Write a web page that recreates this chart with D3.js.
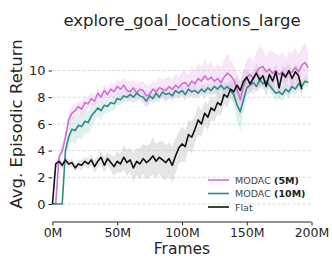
<!DOCTYPE html>
<html>
<head>
<meta charset="utf-8">
<script src="https://cdn.jsdelivr.net/npm/d3@7"></script>
<style>
  body { margin: 0; background: #fff; }
  svg { display: block; font-family: "DejaVu Sans", sans-serif; }
</style>
</head>
<body>
<svg id="chart" width="332" height="258"></svg>
<script>
// frames in millions, one sample every 2.5M
var frames = d3.range(80).map(function(i) { return i * 2.5; });

var modac5 = [0,0,3.5,4.0,5.0,6.3,6.8,7.0,7.3,7.1,7.6,7.5,7.9,7.7,8.3,8.0,8.5,8.2,8.6,8.4,
  8.8,8.6,8.9,8.5,8.4,8.7,8.3,8.6,8.5,8.1,8.2,8.6,8.4,8.7,8.6,8.5,8.8,8.6,8.9,8.7,
  9.0,9.1,8.8,9.2,9.0,9.4,9.2,9.6,9.3,9.5,9.2,9.4,9.1,9.5,9.8,9.6,9.3,8.6,7.8,8.8,
  9.5,9.7,9.4,9.9,10.2,10.3,9.9,10.1,9.8,10.0,9.7,9.9,9.6,9.8,9.9,10.2,9.9,10.4,10.6,10.2];
var modac5Spread = [0,0,0.3,0.4,0.5,0.6,0.5,0.5,0.4,0.5,0.5,0.4,0.5,0.4,0.5,0.4,0.5,0.4,0.5,0.6,
  0.5,0.6,0.5,0.7,0.8,0.6,0.7,0.6,0.7,0.8,0.7,0.6,0.7,0.8,0.7,0.9,0.8,0.7,0.9,0.8,
  0.9,1.0,0.8,1.1,0.9,1.2,1.0,1.3,1.1,1.2,1.0,1.1,1.2,1.3,1.5,1.2,1.1,1.3,1.4,1.2,
  1.3,1.4,1.2,1.5,1.6,1.3,1.2,1.4,1.6,1.3,1.4,1.5,1.3,1.6,1.4,1.5,1.3,1.4,1.5,1.2];

var modac10 = [0,0,0,0,4.0,5.0,5.6,5.5,5.9,5.8,6.2,6.1,6.6,6.9,7.2,7.0,7.4,7.3,7.6,7.5,
  7.9,7.8,8.1,8.0,8.2,8.0,8.3,8.1,8.0,7.7,8.1,7.9,8.3,8.0,8.4,8.2,8.3,8.1,8.5,8.3,
  8.5,8.2,8.6,8.4,8.5,8.3,8.6,8.4,8.7,8.5,8.8,8.6,8.9,8.6,8.8,8.5,8.2,7.4,6.9,7.8,
  8.7,8.9,9.1,8.8,9.3,9.0,9.2,8.9,8.6,8.3,8.4,8.2,8.6,8.4,8.8,8.6,9.0,8.8,9.2,9.1];
var modac10Spread = [0,0,0,0,0.3,0.8,0.9,1.0,0.9,1.0,0.9,0.8,0.9,0.7,0.6,0.7,0.6,0.5,0.6,0.5,
  0.5,0.4,0.5,0.4,0.4,0.5,0.4,0.4,0.5,0.5,0.4,0.4,0.5,0.4,0.4,0.5,0.4,0.4,0.5,0.4,
  0.4,0.5,0.4,0.4,0.5,0.4,0.4,0.5,0.4,0.4,0.5,0.4,0.4,0.5,0.4,0.5,0.8,1.2,1.5,1.0,
  0.6,0.5,0.5,0.4,0.5,0.4,0.5,0.4,0.5,0.6,0.5,0.5,0.4,0.5,0.4,0.5,0.4,0.5,0.4,0.4];

var flat = [0,3.0,3.2,2.9,3.3,3.0,3.1,2.7,3.0,2.9,3.2,3.0,3.3,2.8,3.2,3.5,2.9,3.4,3.1,2.8,
  3.2,3.0,3.5,3.1,3.3,2.7,3.2,3.0,3.4,3.1,3.3,3.6,3.2,3.5,3.3,3.1,3.4,2.9,3.6,4.2,
  4.5,4.3,5.2,5.0,5.6,6.3,6.0,6.8,6.5,7.2,7.0,7.6,7.4,8.2,8.0,8.6,8.4,8.9,8.5,9.2,
  9.5,9.0,9.4,9.8,9.3,9.6,8.8,9.7,9.2,9.9,8.7,9.8,9.5,10.0,9.4,9.9,9.6,8.6,null,null];
var flatSpread = [0,0.3,0.3,0.3,0.3,0.3,0.3,0.3,0.3,0.4,0.3,0.4,0.4,0.5,0.4,0.5,0.6,0.5,0.6,0.7,
  0.8,0.7,0.9,1.0,0.9,1.1,1.0,1.2,1.1,1.3,1.2,1.4,1.3,1.2,1.4,1.3,1.2,1.4,1.3,1.2,
  1.3,1.2,1.1,1.2,1.0,1.1,1.0,0.9,1.0,0.9,0.8,0.9,0.8,0.7,0.8,0.7,0.8,0.7,0.6,0.7,
  0.6,0.7,0.6,0.7,0.6,0.7,0.8,0.6,0.7,0.6,0.8,0.6,0.7,0.6,0.7,0.6,0.7,0.6,null,null];

var xTicks = [0, 50, 100, 150, 200];
var yTicks = [0, 2, 4, 6, 8, 10];

var series = [
    {name: "MODAC", tag: "(5M)", values: modac5, spread: modac5Spread, color: "#d070d4", band: "#e9b8ea"},
    {name: "MODAC", tag: "(10M)", values: modac10, spread: modac10Spread, color: "#2e8a85", band: "#a9d3cf"},
    {name: "Flat", tag: "", values: flat, spread: flatSpread, color: "#111111", band: "#b5b5b5"}
];

var svg = d3.select("#chart");
var left = 52.5, right = 311.5, bottom = 222;

var x = d3.scaleLinear().domain([0, 200]).range([left, right]);
var y = d3.scaleLinear().domain([0, 10]).range([204, 70.5]);

function rows(s) {
    return frames.map(function(f, i) { return {f: f, v: s.values[i], s: s.spread[i]}; });
}

// grid
svg.append("g")
    .selectAll("line")
    .data(yTicks).enter()
    .append("line")
    .attr("x1", left).attr("x2", right)
    .attr("y1", d => y(d)).attr("y2", d => y(d))
    .attr("stroke", "#cfcfcf")
    .attr("stroke-width", 0.8)
    .attr("stroke-dasharray", "3,2");

// bands
let area = d3.area()
    .defined(d => d.v !== null)
    .x(d => x(d.f))
    .y0(d => y(d.v - d.s))
    .y1(d => y(d.v + d.s));

svg.append("g").selectAll("path")
    .data(series.slice().reverse()).enter()
    .append("path")
    .attr("d", s => area(rows(s)))
    .attr("fill", s => s.band)
    .attr("opacity", 0.35);

// lines
let line = d3.line()
    .defined(d => d.v !== null)
    .x(d => x(d.f))
    .y(d => y(d.v));

svg.append("g").selectAll("path")
    .data(series).enter()
    .append("path")
    .attr("d", s => line(rows(s)))
    .attr("fill", "none")
    .attr("stroke", s => s.color)
    .attr("stroke-width", 1.6)
    .attr("stroke-linejoin", "round");

// x axis
let xAxis = svg.append("g")
    .attr("transform", "translate(0," + bottom + ")")
    .call(d3.axisBottom(x).tickValues(xTicks).tickSize(3.5).tickPadding(2.5).tickFormat(d => d + "M"));
xAxis.select(".domain").attr("stroke", "#262626").attr("stroke-width", 1).attr("d", "M" + left + ",0H" + right);
xAxis.selectAll(".tick line").attr("stroke", "#262626");
xAxis.selectAll("text").attr("font-size", 12.5).attr("fill", "#262626").attr("font-family", "DejaVu Sans");

// y axis
let yAxis = svg.append("g")
    .attr("transform", "translate(" + (left - 0.5) + ",0)")
    .call(d3.axisLeft(y).tickValues(yTicks).tickSize(3.5).tickPadding(3));
yAxis.select(".domain").remove();
yAxis.selectAll(".tick line").attr("stroke", "#262626");
yAxis.selectAll("text").attr("font-size", 13).attr("fill", "#262626").attr("font-family", "DejaVu Sans");

// titles
svg.append("text")
    .attr("x", 182).attr("y", 26)
    .attr("text-anchor", "middle")
    .attr("font-size", 16.5)
    .attr("fill", "#262626")
    .text("explore_goal_locations_large");

svg.append("text")
    .attr("x", 182).attr("y", 254.3)
    .attr("text-anchor", "middle")
    .attr("font-size", 15.5)
    .attr("fill", "#262626")
    .text("Frames");

svg.append("text")
    .attr("transform", "translate(22,124) rotate(-90)")
    .attr("text-anchor", "middle")
    .attr("font-size", 16.5)
    .attr("fill", "#262626")
    .text("Avg. Episodic Return");

// legend
let legend = svg.append("g").attr("transform", "translate(208,180)");
let item = legend.selectAll("g")
    .data(series).enter()
    .append("g")
    .attr("transform", (d, i) => "translate(0," + (i * 13.5) + ")");
item.append("line")
    .attr("x1", 0).attr("x2", 21)
    .attr("stroke", d => d.color)
    .attr("stroke-width", 1.6);
let label = item.append("text")
    .attr("x", 27).attr("y", 3.5)
    .attr("font-size", 9.5)
    .attr("fill", "#444");
label.append("tspan").text(d => d.name);
label.append("tspan")
    .attr("font-weight", "bold")
    .attr("fill", "#222")
    .text(d => d.tag ? " " + d.tag : "");
</script>
</body>
</html>
